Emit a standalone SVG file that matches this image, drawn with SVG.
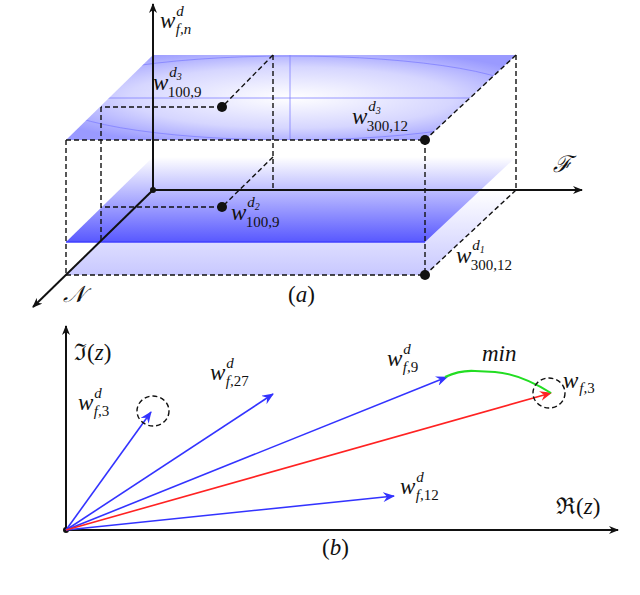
<svg xmlns="http://www.w3.org/2000/svg" width="640" height="595" viewBox="0 0 640 595">
<style>
text{font-family:"Liberation Serif","DejaVu Serif",serif;font-style:italic;font-size:23px;fill:#111}
.s{font-size:15px;font-style:normal}
.si{font-size:15px}
.n{font-style:normal}
.d{stroke:#111;stroke-width:1.4;stroke-dasharray:5,3;fill:none}
.ax{stroke:#111;stroke-width:2;fill:none}
.b{stroke:#3333ff;stroke-width:1.6;fill:none}
</style>
<defs>
<marker id="ak" markerWidth="10" markerHeight="8" refX="9" refY="4" orient="auto" markerUnits="userSpaceOnUse"><path d="M0,0 L10,4 L0,8 L3,4z" fill="#111"/></marker>
<marker id="ab" markerWidth="12" markerHeight="10" refX="11" refY="5" orient="auto" markerUnits="userSpaceOnUse"><path d="M0,0 L12,5 L0,10 L4,5z" fill="#3333ff"/></marker>
<marker id="ar" markerWidth="12" markerHeight="10" refX="11" refY="5" orient="auto" markerUnits="userSpaceOnUse"><path d="M0,0 L12,5 L0,10 L4,5z" fill="#ff2222"/></marker>
<radialGradient id="gt" cx="0.5" cy="0.5" r="0.6"><stop offset="0" stop-color="#ffffff"/><stop offset="0.6" stop-color="#d6d6ff"/><stop offset="1" stop-color="#9a9aff"/></radialGradient>
<linearGradient id="g2" x1="0" y1="0" x2="0" y2="1"><stop offset="0" stop-color="#ffffff"/><stop offset="1" stop-color="#5858ff"/></linearGradient>
<linearGradient id="g1" x1="0" y1="0" x2="0" y2="1"><stop offset="0" stop-color="#ffffff"/><stop offset="1" stop-color="#c8c8ff"/></linearGradient>
<clipPath id="cp"><polygon points="153,55 516,55 425,140 66,140"/></clipPath>
</defs>
<g id="planes">
<polygon points="153,190 516,190 425,275 66,275" fill="url(#g1)"/>
<polygon points="153,157 516,157 425,242 66,242" fill="url(#g2)"/>
<line x1="66" y1="242" x2="425" y2="242" stroke="#4040ff" stroke-width="1.5"/>
<polygon points="153,55 516,55 425,140 66,140" fill="url(#gt)"/>
<g clip-path="url(#cp)" stroke="#8080ff" stroke-width="0.8" fill="none">
<ellipse cx="290" cy="98" rx="240" ry="42"/>
<line x1="290" y1="55" x2="290" y2="140"/>
<line x1="100" y1="98" x2="480" y2="98"/>
</g>
</g>
<g id="dashes">
<polyline class="d" points="66,140 425,140"/>
<line class="d" x1="66" y1="140" x2="66" y2="275"/>
<line class="d" x1="425" y1="140" x2="425" y2="275"/>
<line class="d" x1="516" y1="55" x2="516" y2="190"/>
<line class="d" x1="273" y1="55" x2="273" y2="190"/>
<line class="d" x1="273" y1="55" x2="222" y2="107"/>
<line class="d" x1="222" y1="107" x2="101" y2="107"/>
<line class="d" x1="101" y1="107" x2="101" y2="242"/>
<line class="d" x1="273" y1="157" x2="222" y2="207"/>
<line class="d" x1="222" y1="207" x2="101" y2="207"/>
<line class="d" x1="516" y1="55" x2="425" y2="140"/>
<line class="d" x1="516" y1="190" x2="425" y2="275"/>
<line class="d" x1="66" y1="275" x2="425" y2="275"/>
</g>
<g id="axes-a">
<line class="ax" x1="153" y1="190" x2="153" y2="4" marker-end="url(#ak)"/>
<line class="ax" x1="153" y1="190" x2="582" y2="190" marker-end="url(#ak)"/>
<line class="ax" x1="153" y1="190" x2="33" y2="307" marker-end="url(#ak)"/>
<circle cx="153" cy="190" r="3" fill="#111"/>
</g>
<g id="points">
<circle cx="222" cy="107" r="5" fill="#111"/>
<circle cx="222" cy="207" r="5" fill="#111"/>
<circle cx="425" cy="140" r="5" fill="#111"/>
<circle cx="425" cy="275" r="5" fill="#111"/>
</g>
<g id="labels-a">
<text x="160" y="28">w<tspan class="si" dx="1" dy="-12">d</tspan><tspan class="si" dx="-8" dy="18">f,n</tspan></text>
<text x="153" y="90">w<tspan class="si" dx="1" dy="-13">d<tspan font-size="10" dy="3">3</tspan></tspan><tspan class="s" dx="-14" dy="17">100,9</tspan></text>
<text x="352" y="124">w<tspan class="si" dx="1" dy="-13">d<tspan font-size="10" dy="3">3</tspan></tspan><tspan class="s" dx="-14" dy="17">300,12</tspan></text>
<text x="231" y="220">w<tspan class="si" dx="1" dy="-13">d<tspan font-size="10" dy="3">2</tspan></tspan><tspan class="s" dx="-14" dy="17">100,9</tspan></text>
<text x="456" y="263">w<tspan class="si" dx="1" dy="-13">d<tspan font-size="10" dy="3">1</tspan></tspan><tspan class="s" dx="-14" dy="17">300,12</tspan></text>
<text x="553" y="172" font-family="DejaVu Sans" font-size="22">ℱ</text>
<text x="63" y="302" font-family="DejaVu Sans" font-size="22">𝒩</text>
<text x="288" y="302" class="n">(<tspan font-style="italic">a</tspan>)</text>
</g>
<g id="axes-b">
<line class="ax" x1="66" y1="530" x2="66" y2="326" marker-end="url(#ak)"/>
<line class="ax" x1="66" y1="530" x2="618" y2="530" marker-end="url(#ak)"/>
<circle cx="66" cy="530" r="3" fill="#111"/>
</g>
<g id="vectors">
<line class="b" x1="66" y1="530" x2="151" y2="412" marker-end="url(#ab)"/>
<line class="b" x1="66" y1="530" x2="273" y2="394" marker-end="url(#ab)"/>
<line class="b" x1="66" y1="530" x2="447" y2="377" marker-end="url(#ab)"/>
<line class="b" x1="66" y1="530" x2="394" y2="496" marker-end="url(#ab)"/>
<line x1="66" y1="530" x2="551" y2="393" stroke="#ff2222" stroke-width="1.6" marker-end="url(#ar)"/>
<path d="M445,377 Q460,370 475,371 L495,372 Q520,374 551,393" fill="none" stroke="#22dd22" stroke-width="2"/>
<ellipse class="d" cx="153" cy="411" rx="16" ry="15"/>
<ellipse class="d" cx="549" cy="393" rx="16" ry="15"/>
</g>
<g id="labels-b">
<text x="74" y="360" class="n">ℑ(<tspan font-style="italic">z</tspan>)</text>
<text x="210" y="380">w<tspan class="si" dx="1" dy="-12">d</tspan><tspan class="si" dx="-8" dy="18">f,<tspan font-style="normal">27</tspan></tspan></text>
<text x="78" y="410">w<tspan class="si" dx="1" dy="-12">d</tspan><tspan class="si" dx="-8" dy="18">f,<tspan font-style="normal">3</tspan></tspan></text>
<text x="387" y="366">w<tspan class="si" dx="1" dy="-12">d</tspan><tspan class="si" dx="-8" dy="18">f,<tspan font-style="normal">9</tspan></tspan></text>
<text x="482" y="361">min</text>
<text x="563" y="388">w<tspan class="si" dx="1" dy="5">f,<tspan font-style="normal">3</tspan></tspan></text>
<text x="400" y="494">w<tspan class="si" dx="1" dy="-12">d</tspan><tspan class="si" dx="-8" dy="18">f,<tspan font-style="normal">12</tspan></tspan></text>
<text x="556" y="514" class="n">ℜ(<tspan font-style="italic">z</tspan>)</text>
<text x="322" y="555" class="n">(<tspan font-style="italic">b</tspan>)</text>
</g>
</svg>
